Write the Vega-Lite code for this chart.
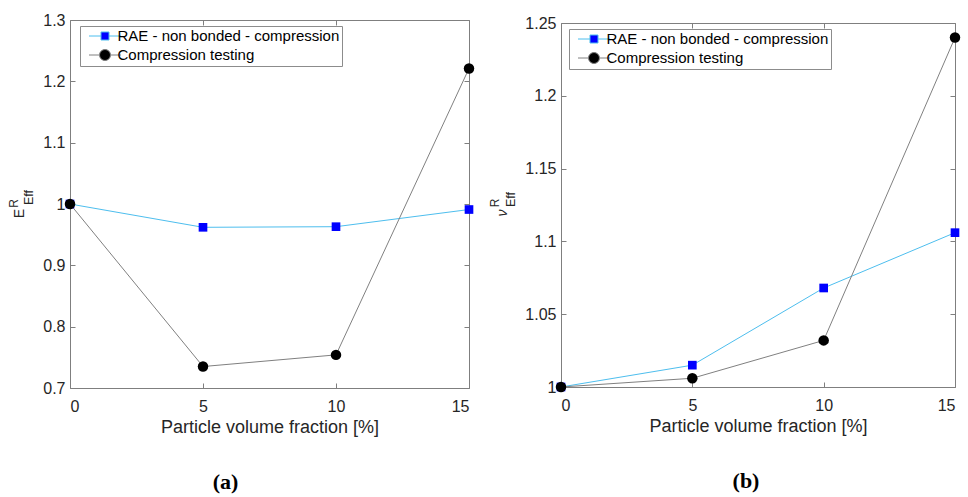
{
  "$schema": "https://vega.github.io/schema/vega-lite/v6.json",
  "background": "white",
  "padding": {"left": 6, "top": 11, "right": 0, "bottom": 0},
  "spacing": 13,
  "datasets": {
    "results": [
      {"fraction": 0, "series": "RAE - non bonded - compression", "E": 1.0, "nu": 1.0},
      {"fraction": 5, "series": "RAE - non bonded - compression", "E": 0.962, "nu": 1.015},
      {"fraction": 10, "series": "RAE - non bonded - compression", "E": 0.963, "nu": 1.068},
      {"fraction": 15, "series": "RAE - non bonded - compression", "E": 0.991, "nu": 1.106},
      {"fraction": 0, "series": "Compression testing", "E": 1.0, "nu": 1.0},
      {"fraction": 5, "series": "Compression testing", "E": 0.735, "nu": 1.006},
      {"fraction": 10, "series": "Compression testing", "E": 0.754, "nu": 1.032},
      {"fraction": 15, "series": "Compression testing", "E": 1.221, "nu": 1.24}
    ]
  },
  "config": {
    "view": {"stroke": "#7f7f7f", "strokeWidth": 1},
    "font": "Liberation Sans",
    "axis": {
      "grid": false,
      "domain": false,
      "tickColor": "#7f7f7f",
      "tickSize": -5,
      "labelFontSize": 16,
      "labelColor": "#262626",
      "labelFont": "Liberation Sans",
      "titleFont": "Liberation Sans",
      "titleColor": "#262626",
      "titleFontWeight": "normal"
    },
    "legend": {
      "title": null,
      "orient": "none",
      "strokeColor": "#8c8c8c",
      "fillColor": "white",
      "padding": 2.5,
      "rowPadding": 3,
      "labelFont": "Liberation Sans",
      "labelFontSize": 15,
      "labelColor": "#000000",
      "labelLimit": 0,
      "labelOffset": 5,
      "symbolOffset": 15,
      "symbolSize": 100,
      "symbolStrokeWidth": 1
    },
    "title": {"font": "Liberation Serif", "fontSize": 22, "fontWeight": "bold", "color": "#000000"}
  },
  "resolve": {"scale": {"color": "independent"}, "legend": {"color": "independent"}},
  "hconcat": [
    {
      "width": 399,
      "height": 368,
      "title": {"text": "(a)", "orient": "bottom", "dx": -44, "offset": 36},
      "data": {"name": "results"},
      "layer": [
        {
          "mark": {"type": "line", "strokeWidth": 1},
          "encoding": {
            "x": {"field": "fraction", "type": "quantitative", "scale": {"domain": [0, 15], "nice": false},
              "axis": {"orient": "bottom", "values": [0, 5, 10, 15], "title": "Particle volume fraction [%]", "titleFontSize": 18, "labelPadding": 15}},
            "y": {"field": "E", "type": "quantitative", "scale": {"domain": [0.7, 1.3], "zero": false, "nice": false},
              "axis": {"orient": "left", "values": [0.7, 0.8, 0.9, 1, 1.1, 1.2, 1.3], "format": "~g", "labelPadding": 10,
                "title": "E", "titleFontSize": 14, "titleAngle": 270, "titleAlign": "center", "titleBaseline": "alphabetic", "titleX": -46.3, "titleY": 193}},
            "color": {"field": "series", "type": "nominal",
              "scale": {"domain": ["RAE - non bonded - compression", "Compression testing"], "range": ["#4DBEEE", "#808080"]},
              "legend": {
                "legendX": 10, "legendY": 6,
                "encode": {"symbols": {"update": {
                  "shape": {"signal": "datum.value === 'RAE - non bonded - compression' ? 'M-3.2,0H-0.8M0.8,0H3.2M-0.8,-0.8H0.8V0.8H-0.8Z' : 'M-3.2,0H-1.1M1.1,0H3.2M1.1,0A1.1,1.1,0,1,1,-1.1,0A1.1,1.1,0,1,1,1.1,0Z'"},
                  "fill": {"signal": "datum.value === 'RAE - non bonded - compression' ? '#0000FF' : '#000000'"},
                  "stroke": {"signal": "datum.value === 'RAE - non bonded - compression' ? '#4DBEEE' : '#808080'"}
                }}}
              }}
          }
        },
        {
          "transform": [{"filter": "datum.series === 'RAE - non bonded - compression'"}],
          "mark": {"type": "point", "shape": "square", "filled": true, "opacity": 1, "size": 75, "color": "#0000FF"},
          "encoding": {
            "x": {"field": "fraction", "type": "quantitative",
              "axis": {"orient": "top", "values": [0, 5, 10, 15], "labels": false,
                "title": "Eff", "titleFontSize": 12.5, "titleAngle": 270, "titleAlign": "center", "titleBaseline": "alphabetic", "titleX": -37.3, "titleY": 177}},
            "y": {"field": "E", "type": "quantitative",
              "axis": {"orient": "right", "values": [0.7, 0.8, 0.9, 1, 1.1, 1.2, 1.3], "labels": false,
                "title": "R", "titleFontSize": 12, "titleAngle": 270, "titleAlign": "center", "titleBaseline": "alphabetic", "titleX": -452, "titleY": 183}}
          }
        },
        {
          "transform": [{"filter": "datum.series === 'Compression testing'"}],
          "mark": {"type": "point", "shape": "circle", "filled": true, "opacity": 1, "size": 110, "color": "#000000"},
          "encoding": {
            "x": {"field": "fraction", "type": "quantitative", "axis": null},
            "y": {"field": "E", "type": "quantitative", "axis": null}
          }
        }
      ],
      "resolve": {"axis": {"x": "independent", "y": "independent"}}
    },
    {
      "spacing": 0,
      "bounds": "flush",
      "vconcat": [
        {
          "width": 394,
          "height": 3,
          "view": {"stroke": null},
          "data": {"values": [{}]},
          "mark": {"type": "text", "text": ""},
          "encoding": {}
        },
        {
          "width": 394,
          "height": 364,
          "title": {"text": "(b)", "orient": "bottom", "dx": -12, "offset": 36},
          "data": {"name": "results"},
          "layer": [
            {
              "mark": {"type": "line", "strokeWidth": 1},
              "encoding": {
                "x": {"field": "fraction", "type": "quantitative", "scale": {"domain": [0, 15], "nice": false},
                  "axis": {"orient": "bottom", "values": [0, 5, 10, 15], "title": "Particle volume fraction [%]", "titleFontSize": 18, "labelPadding": 15}},
                "y": {"field": "nu", "type": "quantitative", "scale": {"domain": [1, 1.25], "zero": false, "nice": false},
                  "axis": {"orient": "left", "values": [1, 1.05, 1.1, 1.15, 1.2, 1.25], "format": "~g", "labelPadding": 10,
                    "title": "ν", "titleFontSize": 14, "titleFontStyle": "italic", "titleAngle": 270, "titleAlign": "center", "titleBaseline": "alphabetic", "titleX": -54.3, "titleY": 189.5}},
                "color": {"field": "series", "type": "nominal",
                  "scale": {"domain": ["RAE - non bonded - compression", "Compression testing"], "range": ["#4DBEEE", "#808080"]},
                  "legend": {
                    "legendX": 8, "legendY": 9,
                    "encode": {"symbols": {"update": {
                      "shape": {"signal": "datum.value === 'RAE - non bonded - compression' ? 'M-3.2,0H-0.8M0.8,0H3.2M-0.8,-0.8H0.8V0.8H-0.8Z' : 'M-3.2,0H-1.1M1.1,0H3.2M1.1,0A1.1,1.1,0,1,1,-1.1,0A1.1,1.1,0,1,1,1.1,0Z'"},
                      "fill": {"signal": "datum.value === 'RAE - non bonded - compression' ? '#0000FF' : '#000000'"},
                      "stroke": {"signal": "datum.value === 'RAE - non bonded - compression' ? '#4DBEEE' : '#808080'"}
                    }}}
                  }}
              }
            },
            {
              "transform": [{"filter": "datum.series === 'RAE - non bonded - compression'"}],
              "mark": {"type": "point", "shape": "square", "filled": true, "opacity": 1, "size": 75, "color": "#0000FF"},
              "encoding": {
                "x": {"field": "fraction", "type": "quantitative",
                  "axis": {"orient": "top", "values": [0, 5, 10, 15], "labels": false,
                    "title": "Eff", "titleFontSize": 12.5, "titleAngle": 270, "titleAlign": "center", "titleBaseline": "alphabetic", "titleX": -47, "titleY": 176}},
                "y": {"field": "nu", "type": "quantitative",
                  "axis": {"orient": "right", "values": [1, 1.05, 1.1, 1.15, 1.2, 1.25], "labels": false,
                    "title": "R", "titleFontSize": 12, "titleAngle": 270, "titleAlign": "center", "titleBaseline": "alphabetic", "titleX": -456.3, "titleY": 179.5}}
              }
            },
            {
              "transform": [{"filter": "datum.series === 'Compression testing'"}],
              "mark": {"type": "point", "shape": "circle", "filled": true, "opacity": 1, "size": 110, "color": "#000000"},
              "encoding": {
                "x": {"field": "fraction", "type": "quantitative", "axis": null},
                "y": {"field": "nu", "type": "quantitative", "axis": null}
              }
            }
          ],
          "resolve": {"axis": {"x": "independent", "y": "independent"}}
        }
      ]
    }
  ]
}
